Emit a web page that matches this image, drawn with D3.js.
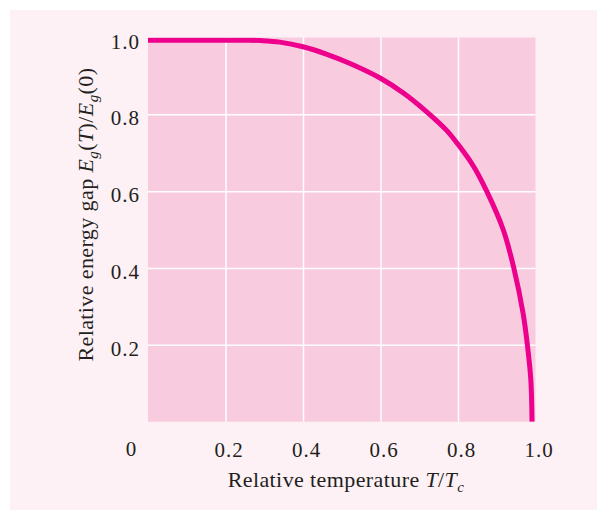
<!DOCTYPE html>
<html>
<head>
<meta charset="utf-8">
<script src="https://cdn.jsdelivr.net/npm/d3@7"></script>
<style>
  body { margin: 0; background: #ffffff; }
  text { font-family: "Liberation Serif", "DejaVu Serif", serif; fill: #231f20; }
  .axis .domain { display: none; }
  .grid line { stroke: #ffffff; stroke-width: 1.5; }
  .grid text { display: none; }
</style>
</head>
<body>
<div id="chart"></div>
<script>
// relative temperature T/Tc and relative gap Eg(T)/Eg(0)
const temps = [0, 0.10, 0.20, 0.26, 0.29, 0.34, 0.40, 0.46, 0.52, 0.60, 0.66, 0.72, 0.77,
               0.80, 0.84, 0.874, 0.917, 0.944, 0.968, 0.979, 0.988, 0.991];
const gaps  = [0.993, 0.993, 0.993, 0.993, 0.992, 0.988, 0.976, 0.957, 0.933, 0.894, 0.855, 0.806, 0.759,
               0.722, 0.665, 0.600, 0.499, 0.400, 0.282, 0.200, 0.108, 0];
const xTicks = [0.2, 0.4, 0.6, 0.8, 1.0];
const yTicks = [0.2, 0.4, 0.6, 0.8, 1.0];
const gridTicks = [0.2, 0.4, 0.6, 0.8];

const points = temps.map((t, i) => ({t: t, g: gaps[i]}));

const W = 601, H = 515;
const margin = ({top: 37.5, right: 65.5, bottom: 93.3, left: 148});
const width = W - margin.left - margin.right,
      height = H - margin.top - margin.bottom;

const root = d3.select("#chart")
    .append("svg")
    .attr("width", W)
    .attr("height", H);

// outer panel
root.append("rect")
    .attr("x", 10).attr("y", 10)
    .attr("width", 587).attr("height", 500)
    .attr("fill", "#fdf1f5");

const svg = root.append("g")
    .attr("transform", "translate(" + margin.left + "," + margin.top + ")");

const xScale = d3.scaleLinear().domain([0, 1]).range([0, width]);
const yScale = d3.scaleLinear().domain([0, 1]).range([height, 0]);

svg.append("rect")
    .attr("width", width)
    .attr("height", height)
    .attr("fill", "#f8cbdf");

svg.append("g")
    .attr("class", "grid")
    .call(d3.axisLeft(yScale).tickValues(gridTicks).tickSize(-width));
svg.append("g")
    .attr("class", "grid")
    .attr("transform", `translate(0, ${height})`)
    .call(d3.axisBottom(xScale).tickValues(gridTicks).tickSize(-height));
svg.selectAll(".grid .domain").remove();

svg.append("defs").append("clipPath")
    .attr("id", "plot-clip")
    .append("rect")
    .attr("width", width)
    .attr("height", height);

const line = d3.line()
    .x(d => xScale(d.t))
    .y(d => yScale(d.g))
    .curve(d3.curveCatmullRom.alpha(0.5));

svg.append("path")
    .datum(points)
    .attr("clip-path", "url(#plot-clip)")
    .attr("fill", "none")
    .attr("stroke", "#ec008c")
    .attr("stroke-width", 5)
    .attr("d", line);

// tick labels
let yAxis = d3.axisLeft(yScale)
    .tickValues(yTicks)
    .tickSize(0)
    .tickPadding(8)
    .tickFormat(d3.format(".1f"));
let drawY = svg.append("g").attr("class", "axis y-axis").call(yAxis);
drawY.selectAll("text")
    .attr("dy", "0.5em")
    .style("font-size", "21px")
    .style("letter-spacing", "1px");

let xAxis = d3.axisBottom(xScale)
    .tickValues(xTicks)
    .tickSize(0)
    .tickPadding(20)
    .tickFormat(d3.format(".1f"));
let drawX = svg.append("g").attr("class", "axis x-axis")
    .attr("transform", `translate(0, ${height})`)
    .call(xAxis);
drawX.selectAll("text")
    .attr("dx", "0.15em")
    .style("font-size", "21px")
    .style("letter-spacing", "1px");

svg.append("text")
    .attr("x", -17)
    .attr("y", height + 34)
    .attr("text-anchor", "middle")
    .style("font-size", "21px")
    .text("0");

// axis titles
const xLabel = svg.append("text")
    .attr("x", 198)
    .attr("y", height + 65)
    .attr("text-anchor", "middle")
    .style("font-size", "22px")
    .style("letter-spacing", "0.4px");
xLabel.append("tspan").text("Relative temperature ");
xLabel.append("tspan").style("font-style", "italic").text("T");
xLabel.append("tspan").text("/");
xLabel.append("tspan").style("font-style", "italic").text("T");
xLabel.append("tspan").style("font-style", "italic").style("font-size", "15px")
    .attr("dy", 5).text("c");

const yLabel = svg.append("text")
    .attr("transform", `translate(-55, ${height / 2 - 15}) rotate(-90)`)
    .attr("text-anchor", "middle")
    .style("font-size", "22px")
    .style("letter-spacing", "0.4px");
yLabel.append("tspan").text("Relative energy gap ");
yLabel.append("tspan").style("font-style", "italic").text("E");
yLabel.append("tspan").style("font-style", "italic").style("font-size", "15px")
    .attr("dy", 5).text("g");
yLabel.append("tspan").attr("dy", -5).text("(");
yLabel.append("tspan").style("font-style", "italic").text("T");
yLabel.append("tspan").text(")/");
yLabel.append("tspan").style("font-style", "italic").text("E");
yLabel.append("tspan").style("font-style", "italic").style("font-size", "15px")
    .attr("dy", 5).text("g");
yLabel.append("tspan").attr("dy", -5).text("(0)");
</script>
</body>
</html>
